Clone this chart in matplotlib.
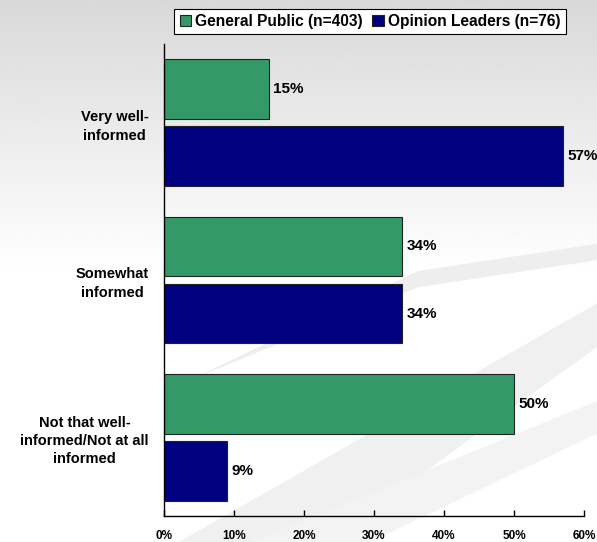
import numpy as np
import matplotlib.pyplot as plt
from matplotlib.patches import Polygon

plt.rcParams['font.family'] = ['Liberation Sans', 'DejaVu Sans']
plt.rcParams['font.weight'] = 'bold'

categories = ['Very well-\ninformed', 'Somewhat\ninformed', 'Not that well-\ninformed/Not at all\ninformed']
series_names = ['General Public (n=403)', 'Opinion Leaders (n=76)']
general_public = [15, 34, 50]
opinion_leaders = [57, 34, 9]
ticks = [0, 10, 20, 30, 40, 50, 60]
colors = ['#339966', '#000080']

fig = plt.figure(figsize=(5.97, 5.42), dpi=100)

# background: gray gradient at top fading to white, plus light swooshes
bg = fig.add_axes([0, 0, 1, 1], zorder=-10)
grad = np.linspace(0, 1, 256).reshape(-1, 1)
grad = np.clip(grad * 2.0, 0, 1)
bg.imshow(0.85 + 0.15 * grad, cmap='gray', vmin=0, vmax=1, aspect='auto',
          extent=[0, 1, 0, 1], origin='upper')
for pts, c in [
    ([(0.30, 0.0), (0.55, 0.0), (1.0, 0.36), (1.0, 0.44)], '#f0f0f0'),
    ([(0.42, 0.0), (0.62, 0.0), (1.0, 0.20), (1.0, 0.26)], '#f3f3f3'),
    ([(0.32, 0.30), (0.70, 0.50), (1.0, 0.55), (1.0, 0.52), (0.70, 0.47)], '#eeeeee'),
]:
    bg.add_patch(Polygon(pts, closed=True, facecolor=c, edgecolor='none'))
bg.set_xlim(0, 1)
bg.set_ylim(0, 1)
bg.axis('off')

ax = fig.add_axes([164 / 597, 1 - 516 / 542, 420 / 597, 472 / 542])
ax.patch.set_alpha(0)

y = np.arange(len(categories))
h = 0.38
off = 0.213
b1 = ax.barh(y - off, general_public, height=h, color=colors[0], edgecolor='#222222',
             linewidth=0.8, label=series_names[0])
b2 = ax.barh(y + off, opinion_leaders, height=h, color=colors[1], edgecolor='#222222',
             linewidth=0.8, label=series_names[1])

for bars, vals in [(b1, general_public), (b2, opinion_leaders)]:
    for r, v in zip(bars, vals):
        ax.text(v + 0.6, r.get_y() + r.get_height() / 2, f'{v}%', va='center', ha='left',
                fontsize=11, fontweight='bold', clip_on=False)

ax.set_xlim(0, 60)
ax.set_ylim(len(categories) - 0.5, -0.5)
ax.set_xticks(ticks)
ax.set_xticklabels([f'{t}%' for t in ticks], fontsize=8.5, fontweight='bold')
ax.set_yticks(y)
ax.set_yticklabels(categories, fontsize=10.5, fontweight='bold', multialignment='center',
                   linespacing=1.4)
ax.tick_params(axis='y', length=0, pad=11)
ax.tick_params(axis='x', length=4, width=1, direction='in', pad=10)
for s in ['top', 'right']:
    ax.spines[s].set_visible(False)
ax.spines['left'].set_linewidth(1)
ax.spines['bottom'].set_linewidth(1)

leg = fig.legend(loc='center', bbox_to_anchor=(370 / 597, 1 - 21.5 / 542), ncol=2,
                 frameon=True, fancybox=False, edgecolor='black', framealpha=1,
                 prop={'size': 11.2, 'weight': 'bold'}, handlelength=0.75, handleheight=0.75,
                 handletextpad=0.25, columnspacing=0.6, borderpad=0.35)
leg.get_frame().set_linewidth(0.8)

fig.savefig('out.png', dpi=100)
